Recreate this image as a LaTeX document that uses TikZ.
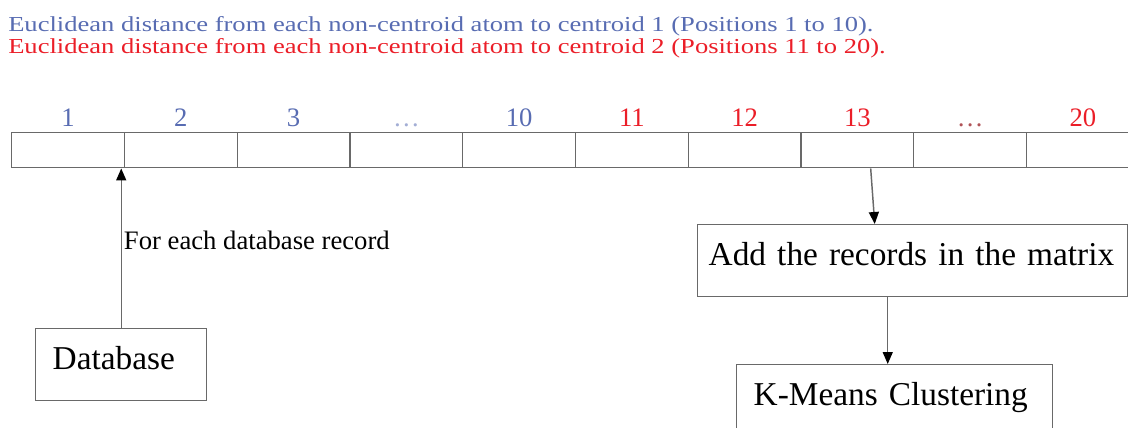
\documentclass[tikz,border=0pt]{standalone}
\usepackage{fontspec}
\setmainfont{Liberation Serif}
\usetikzlibrary{positioning,arrows.meta}
\definecolor{posblue}{RGB}{88,108,178}
\definecolor{posred}{RGB}{235,30,40}
\definecolor{linegray}{RGB}{105,105,105}
\newcommand{\w}{112.75}

\begin{document}
\begin{tikzpicture}[x=0.75pt, y=-0.75pt,
    cell/.style={draw=linegray, line width=1.1pt, rectangle, anchor=north west, minimum width=\w*0.75pt, minimum height=26.25pt, inner sep=0pt},
    num/.style={above=3.75pt of #1, inner sep=0pt, font=\fontsize{20}{24}\selectfont},
    head/.style={anchor=base west, inner sep=0pt, font=\fontsize{16}{19}\selectfont},
    box/.style={draw=linegray, line width=1.1pt, anchor=north west, align=left, inner xsep=12.75pt, inner ysep=0pt, minimum height=54pt, text height=17.5pt, text depth=10.5pt, font=\fontsize{25}{30}\selectfont},
    arr/.style={draw=linegray, line width=1.1pt, -{Triangle[width=7.5pt, length=9pt, black]}}]
    \useasboundingbox (0,0) rectangle (1128,428);

    % Headings
    \node[head, posblue] (head-1) at (8,32) {\scalebox{1.245}[1]{Euclidean distance from each non-centroid atom to centroid 1 (Positions 1 to 10).}};
    \node[head, posred] (head-2) at (8,54) {\scalebox{1.245}[1]{Euclidean distance from each non-centroid atom to centroid 2 (Positions 11 to 20).}};

    % Row of cells
    \node[cell] (cell-1) at (11+0*\w,132) {};
    \node[cell] (cell-2) at (11+1*\w,132) {};
    \node[cell] (cell-3) at (11+2*\w,132) {};
    \node[cell] (cell-4) at (11+3*\w,132) {};
    \node[cell] (cell-5) at (11+4*\w,132) {};
    \node[cell] (cell-6) at (11+5*\w,132) {};
    \node[cell] (cell-7) at (11+6*\w,132) {};
    \node[cell] (cell-8) at (11+7*\w,132) {};
    \node[cell] (cell-9) at (11+8*\w,132) {};
    \node[cell] (cell-10) at (11+9*\w,132) {};

    % Positions
    \node[num=cell-1, posblue] (num-1) {1};
    \node[num=cell-2, posblue] (num-2) {2};
    \node[num=cell-3, posblue] (num-3) {3};
    \node[num=cell-4, posblue!55] (num-4) {\dots};
    \node[num=cell-5, posblue] (num-5) {10};
    \node[num=cell-6, posred] (num-6) {11};
    \node[num=cell-7, posred] (num-7) {12};
    \node[num=cell-8, posred] (num-8) {13};
    \node[num=cell-9, posred!45!gray] (num-9) {\dots};
    \node[num=cell-10, posred] (num-10) {20};

    % Boxes
    \node[box, text width=102.75pt] (db) at (35,328) {Database};
    \node[box, inner xsep=8.25pt, text width=306pt] (add) at (697,224) {Add the records in the matrix};
    \node[box, text width=211.5pt] (km) at (736,364) {K-Means Clustering};

    % Arrows
    \draw[arr] (db.north) -- (db.north |- cell-1.south)
        node[pos=0.55, right, inner sep=1.5pt, font=\fontsize{20}{24}\selectfont] (rec) {For each database record};
    \draw[arr] ([xshift=10pt]cell-8.south) -- ([xshift=-28.5pt]add.north);
    \draw[arr] ([xshift=-18.75pt]add.south) -- ([xshift=-18.75pt]add.south |- km.north);
\end{tikzpicture}
\end{document}
